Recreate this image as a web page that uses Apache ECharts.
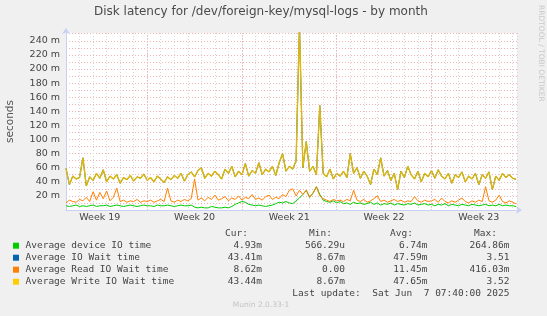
<!DOCTYPE html>
<html>
<head>
<meta charset="utf-8">
<script src="https://cdn.jsdelivr.net/npm/echarts@6/dist/echarts.min.js"></script>
<style>
html, body { margin: 0; padding: 0; background: #F0F0F0; }
#main { width: 547px; height: 316px; }
</style>
</head>
<body>
<div id="main"></div>
<script>
var myChart = echarts.init(document.getElementById('main'));

// time axis in days since Mon 5 May 00:00, one point every 6 hours
var STEP_DAYS = 0.25;
var END_DAY = 33.32;
var sundays = [6, 13, 20, 27];
var weekCenters = [2.5, 9.5, 16.5, 23.5, 30.5];
var weekLabels = ['Week 19', 'Week 20', 'Week 21', 'Week 22', 'Week 23'];

// values in milliseconds
var deviceIO = [
  6, 5, 6, 7, 5, 6, 5, 6, 7, 5, 6, 6, 7, 5, 6, 7, 6, 5, 6, 7,
  6, 5, 6, 7, 6, 6, 5, 7, 6, 6, 7, 6, 5, 6, 7, 6, 6, 7, 4, 3,
  4, 3, 3, 5, 4, 3, 3, 4, 3, 5, 8, 10, 12, 11, 8, 7, 6, 7, 6, 5,
  6, 7, 9, 11, 10, 12, 10, 9, 13, 17, 22, 28, 18, 24, 33, 22, 14, 12, 11, 13,
  10, 12, 9, 10, 8, 11, 9, 10, 8, 9, 11, 8, 10, 7, 9, 8, 10, 7, 9, 8,
  7, 9, 8, 10, 7, 8, 9, 7, 8, 6, 8, 7, 9, 6, 8, 7, 6, 8, 7, 6,
  8, 7, 6, 7, 8, 6, 7, 6, 8, 6, 7, 6, 6, 4.93
];
var ioWait = [
  59, 36, 48, 44, 46, 74, 34, 47, 42, 52, 45, 57, 40, 48, 44, 50, 38, 46, 43, 49,
  41, 47, 45, 51, 42, 46, 40, 48, 44, 39, 47, 43, 49, 45, 52, 41, 50, 54, 47, 56,
  60, 45, 52, 48, 55, 50, 44, 58, 52, 62, 47, 55, 50, 66, 48, 56, 52, 67, 50, 58,
  54, 62, 49, 67, 80, 55, 62, 58, 70, 262, 60, 97, 55, 62, 50, 148, 52, 47, 58, 44,
  52, 48, 55, 46, 80, 52, 60, 45, 55, 48, 36, 58, 50, 74, 48, 56, 42, 52, 29, 55,
  46, 62, 50, 44, 55, 40, 52, 47, 56, 45, 57, 48, 44, 52, 38, 50, 46, 54, 40, 48,
  44, 52, 36, 50, 45, 54, 29, 48, 42, 52, 46, 50, 45, 43.41
];
var readWait = [
  10, 14, 12, 11, 15, 13, 18, 12, 26, 14, 25, 16, 27, 13, 18, 31, 12, 14, 11, 13,
  12, 15, 11, 13, 12, 14, 11, 13, 15, 12, 31, 13, 11, 14, 12, 15, 13, 16, 44, 14,
  17, 13, 18, 15, 21, 14, 16, 19, 13, 17, 15, 20, 14, 18, 16, 22, 15, 17, 14, 19,
  21, 15, 18, 16, 22, 19, 28, 30, 20, 28, 22, 28, 18, 24, 33, 20, 16, 14, 12, 15,
  13, 14, 12, 15, 13, 28, 14, 12, 15, 11, 13, 16, 20, 12, 14, 11, 13, 15, 12, 14,
  11, 13, 12, 19, 13, 11, 14, 12, 13, 15, 11, 17, 12, 10, 13, 11, 14, 17, 12, 10,
  13, 11, 14, 12, 33, 13, 11, 14, 21, 12, 10, 13, 11, 8.62
];
var writeWait = [
  59, 36, 48, 44, 46, 74, 34, 47, 42, 52, 45, 57, 40, 48, 44, 50, 38, 46, 43, 49,
  41, 47, 45, 51, 42, 46, 40, 48, 44, 39, 47, 43, 49, 45, 52, 41, 50, 54, 47, 56,
  60, 45, 52, 48, 55, 50, 44, 58, 52, 62, 47, 55, 50, 66, 48, 56, 52, 67, 50, 58,
  54, 62, 49, 67, 80, 55, 62, 58, 70, 262, 60, 97, 55, 62, 50, 148, 52, 47, 58, 44,
  52, 48, 55, 46, 80, 52, 60, 45, 55, 48, 36, 58, 50, 74, 48, 56, 42, 52, 29, 55,
  46, 62, 50, 44, 55, 40, 52, 47, 56, 45, 57, 48, 44, 52, 38, 50, 46, 54, 40, 48,
  44, 52, 36, 50, 45, 54, 29, 48, 42, 52, 46, 50, 45, 43.44
];

var seriesNames = ['Average device IO time', 'Average IO Wait time', 'Average Read IO Wait time', 'Average Write IO Wait time'];
var seriesColors = ['#00CC00', '#0066B3', '#FF8000', '#FFCC00'];
var lineColors = ['#00CC00', '#0066B3', '#FF8000', '#DDB80A']; // yellow looks olive where it sits on the blue
var seriesData = [deviceIO, ioWait, readWait, writeWait];
var curVals = ['4.93m', '43.41m', '8.62m', '43.44m'];
var minVals = ['566.29u', '8.67m', '0.00', '8.67m'];
var avgVals = ['6.74m', '47.59m', '11.45m', '47.65m'];
var maxVals = ['264.86m', '3.51', '416.03m', '3.52'];

var toPoints = function (arr) {
    return arr.map(function (v, i) { return [i * STEP_DAYS, v]; });
};

var series = [];
seriesData.forEach(function (arr, i) {
    var s = {
        name: seriesNames[i],
        type: 'line',
        showSymbol: false,
        symbol: 'none',
        animation: false,
        lineStyle: { color: lineColors[i], width: i == 3 ? 1.4 : 1 },
        data: toPoints(arr)
    };
    if (i == 0) {
        s.markLine = {
            silent: true,
            symbol: 'none',
            label: { show: false },
            lineStyle: { color: '#F2B4B4', type: [1, 2], width: 1 },
            data: sundays.map(function (d) { return { xAxis: d }; })
        };
    }
    series.push(s);
});

// legend table drawn as text
var mono = '9.5px "DejaVu Sans Mono"';
var graphic = [];
var rowY = [245.7, 257.7, 269.7, 281.7];
var heads = [['Cur:', 248], ['Min:', 332], ['Avg:', 413], ['Max:', 497]];
heads.forEach(function (h) {
    graphic.push({ type: 'text', x: h[1], y: 233.5, style: { text: h[0], font: mono, fill: '#444', align: 'right', verticalAlign: 'middle' } });
});
seriesNames.forEach(function (name, i) {
    graphic.push({ type: 'rect', shape: { x: 13, y: rowY[i] - 3, width: 6, height: 6 }, style: { fill: seriesColors[i] } });
    graphic.push({ type: 'text', x: 25.5, y: rowY[i], style: { text: name, font: mono, fill: '#444', verticalAlign: 'middle' } });
    [[curVals, 262], [minVals, 345], [avgVals, 427.5], [maxVals, 509.5]].forEach(function (c) {
        graphic.push({ type: 'text', x: c[1], y: rowY[i], style: { text: c[0][i], font: mono, fill: '#444', align: 'right', verticalAlign: 'middle' } });
    });
});
graphic.push({ type: 'text', x: 509.5, y: 293.7, style: { text: 'Last update:  Sat Jun  7 07:40:00 2025', font: mono, fill: '#444', align: 'right', verticalAlign: 'middle' } });
graphic.push({ type: 'text', x: 261, y: 305.5, style: { text: 'Munin 2.0.33-1', font: '7.5px "DejaVu Sans"', fill: '#C4C4C4', align: 'center', verticalAlign: 'middle' } });
graphic.push({ type: 'text', x: 541, y: 5, rotation: -Math.PI / 2, style: { text: 'RRDTOOL / TOBI OETIKER', font: '7.5px "DejaVu Sans"', fill: '#C8C8C8', align: 'left', verticalAlign: 'middle' } });

option = {
    backgroundColor: '#F0F0F0',
    animation: false,
    title: {
        text: 'Disk latency for /dev/foreign-key/mysql-logs - by month',
        left: 94,
        top: 6,
        padding: 0,
        textStyle: { fontFamily: 'DejaVu Sans', fontSize: 12, fontWeight: 'normal', color: '#4A4A4A' }
    },
    grid: {
        left: 66, top: 33, right: 30, bottom: 106,
        outerBoundsMode: 'none',
        containLabel: false,
        show: true, backgroundColor: '#FFFFFF', borderWidth: 0
    },
    xAxis: [{
        type: 'value',
        min: 0,
        max: END_DAY,
        interval: 1,
        axisLine: { show: true, onZero: false, lineStyle: { color: '#C8D0F4', width: 1 }, symbol: ['none', 'arrow'], symbolSize: [6, 6], symbolOffset: [0, 5] },
        axisTick: { show: false },
        axisLabel: { show: false },
        splitLine: { show: true, lineStyle: { color: '#D8D8D8', type: [1, 2], width: 1 } }
    }, {
        type: 'value',
        min: 0,
        max: END_DAY,
        interval: 0.5,
        position: 'bottom',
        axisLine: { show: false },
        axisTick: { show: false },
        splitLine: { show: false },
        axisLabel: {
            show: true,
            margin: 3,
            fontFamily: 'DejaVu Sans',
            fontSize: 9.5,
            color: '#444',
            showMinLabel: false,
            showMaxLabel: false,
            formatter: function (v) {
                for (var k = 0; k < weekCenters.length; k++) {
                    if (Math.abs(v - weekCenters[k]) < 0.01) return weekLabels[k];
                }
                return '';
            }
        }
    }],
    yAxis: {
        type: 'value',
        min: 0,
        max: 251,
        interval: 10,
        name: 'seconds',
        nameLocation: 'middle',
        nameRotate: 90,
        nameGap: 50,
        nameTextStyle: { fontFamily: 'DejaVu Sans', fontSize: 10.5, color: '#555' },
        axisLine: { show: true, lineStyle: { color: '#C8D0F4', width: 1 }, symbol: ['none', 'arrow'], symbolSize: [6, 6], symbolOffset: [0, 5] },
        axisTick: { show: false },
        axisLabel: {
            margin: 6,
            fontFamily: 'DejaVu Sans',
            fontSize: 9.5,
            color: '#444',
            showMaxLabel: false,
            formatter: function (v) {
                if (v > 0 && v % 20 === 0) return v + ' m';
                return '';
            }
        },
        splitLine: { show: true, lineStyle: { color: '#F2B4B4', type: [1, 2], width: 1 } }
    },
    graphic: graphic,
    series: series
};

myChart.setOption(option);
</script>
</body>
</html>
